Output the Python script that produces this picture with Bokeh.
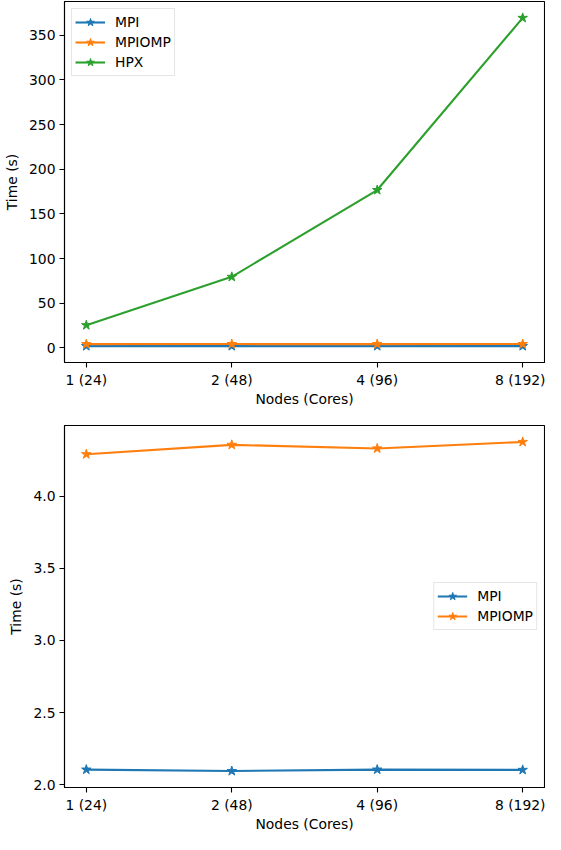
from bokeh.plotting import figure
from bokeh.layouts import column
from bokeh.models import FixedTicker, Range1d, PrintfTickFormatter
from bokeh.embed import file_html
from bokeh.resources import INLINE

# ---- data ----
node_labels = ["1 (24)", "2 (48)", "4 (96)", "8 (192)"]
mpi = [2.105, 2.095, 2.105, 2.103]
mpiomp = [4.29, 4.355, 4.33, 4.375]
hpx = [25.5, 79.6, 176.8, 369.5]
top_yticks = [0, 50, 100, 150, 200, 250, 300, 350]
bottom_yticks = [2.0, 2.5, 3.0, 3.5, 4.0]

C_MPI = "#1f77b4"
C_OMP = "#ff7f0e"
C_HPX = "#2ca02c"
FONT = "DejaVu Sans"
FS = "13.9px"

x = list(range(len(node_labels)))


def padded(vals, frac=0.05):
    lo, hi = min(vals), max(vals)
    m = (hi - lo) * frac
    return lo - m, hi + m


def make_fig(width, height, mb_left, mb_top, mb_bottom, series, yticks, ylo, yhi, legend_loc, fmt=None):
    p = figure(width=width, height=height, output_backend="svg", toolbar_location=None,
               x_range=Range1d(*padded(x)), y_range=Range1d(ylo, yhi),
               min_border_left=mb_left, min_border_right=1, min_border_top=mb_top,
               min_border_bottom=mb_bottom)
    p.background_fill_color = "white"
    p.border_fill_color = "white"
    p.outline_line_color = "black"
    p.outline_line_alpha = 1.0
    p.outline_line_width = 1.1
    p.xgrid.visible = False
    p.ygrid.visible = False

    for name, vals, col in series:
        p.line(x, vals, line_color=col, line_width=2.1, legend_label=name)
        p.scatter(x, vals, marker="star", size=10, fill_color=col, line_color=col,
                  legend_label=name)

    p.xaxis.ticker = FixedTicker(ticks=x)
    p.xaxis.major_label_overrides = {i: lab for i, lab in zip(x, node_labels)}
    p.yaxis.ticker = FixedTicker(ticks=yticks)
    if fmt:
        p.yaxis.formatter = PrintfTickFormatter(format=fmt)
    p.xaxis.axis_label = "Nodes (Cores)"
    p.yaxis.axis_label = "Time (s)"

    for ax in (p.xaxis[0], p.yaxis[0]):
        ax.axis_line_color = "black"
        ax.axis_line_width = 1.1
        ax.major_tick_line_color = "black"
        ax.major_tick_line_width = 1.1
        ax.major_tick_out = 5
        ax.major_tick_in = 0
        ax.minor_tick_out = 0
        ax.minor_tick_in = 0
        ax.major_label_text_font = FONT
        ax.major_label_text_font_size = FS
        ax.major_label_text_color = "black"
        ax.axis_label_text_font = FONT
        ax.axis_label_text_font_size = FS
        ax.axis_label_text_font_style = "normal"
        ax.axis_label_text_color = "black"
    p.xaxis.major_label_standoff = 4
    p.xaxis.axis_label_standoff = 0
    p.yaxis.major_label_standoff = 4
    p.yaxis.axis_label_standoff = 6

    lg = p.legend[0]
    lg.location = legend_loc
    lg.margin = 7
    lg.padding = 3
    lg.spacing = 0
    lg.glyph_width = 30
    lg.glyph_height = 20
    lg.label_height = 20
    lg.label_standoff = 10
    lg.label_text_font = FONT
    lg.label_text_font_size = FS
    lg.label_text_color = "black"
    lg.border_line_color = "#cccccc"
    lg.border_line_width = 1
    lg.background_fill_alpha = 0.8
    return p


top = make_fig(545, 409, 57, 1, 46,
               [("MPI", mpi, C_MPI), ("MPIOMP", mpiomp, C_OMP), ("HPX", hpx, C_HPX)],
               top_yticks, *padded(mpi + mpiomp + hpx), "top_left")

bottom = make_fig(545, 425, 54, 16, 45,
                  [("MPI", mpi, C_MPI), ("MPIOMP", mpiomp, C_OMP)],
                  bottom_yticks, *padded(mpi + mpiomp), "center_right", fmt="%.1f")

layout = column(top, bottom, spacing=0)

open("out.html", "w").write(file_html(layout, INLINE))
